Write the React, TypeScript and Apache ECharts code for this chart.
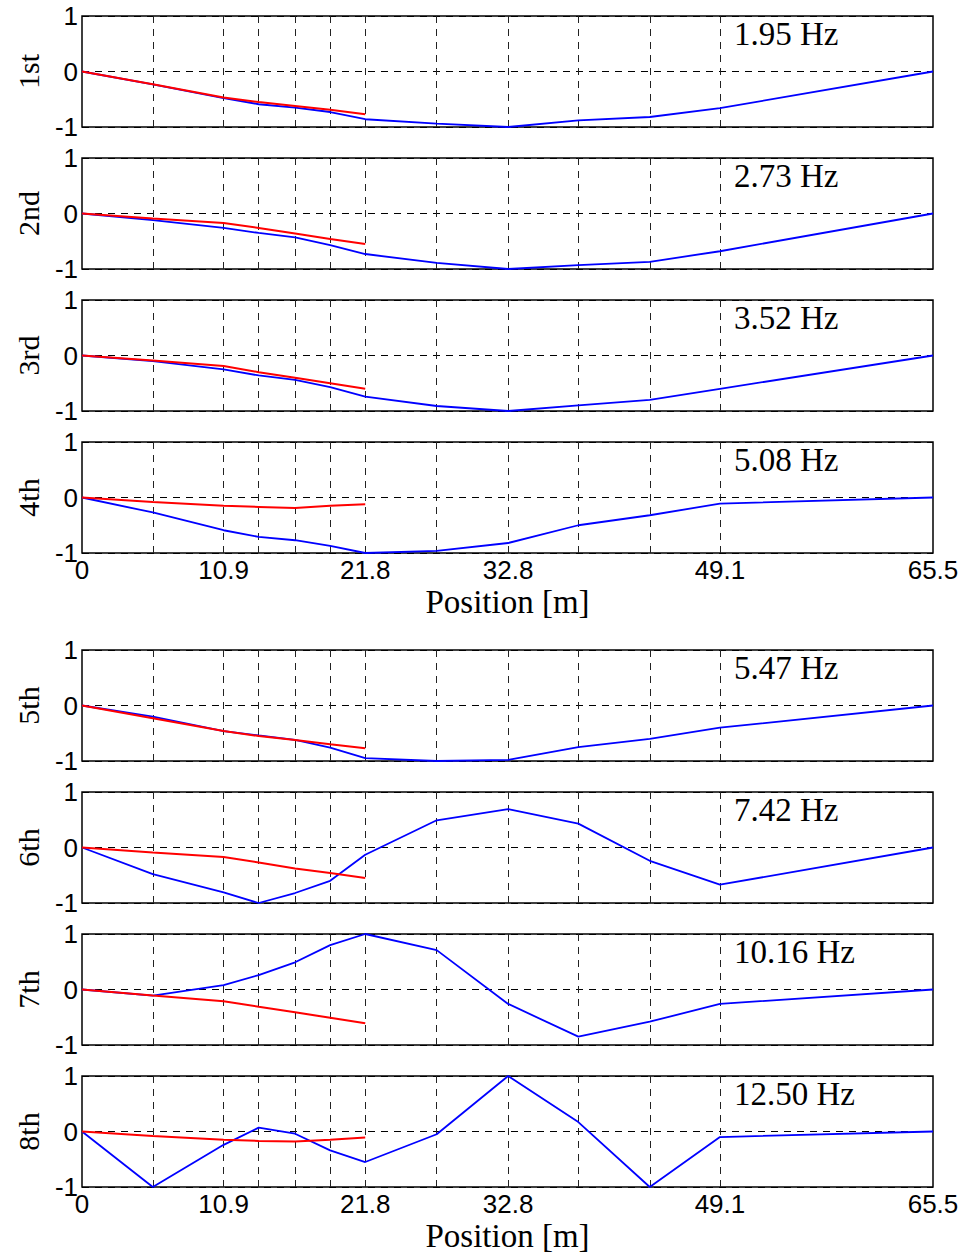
import React, { useEffect, useRef } from "react";
import * as echarts from "echarts";

const positions = [0, 5.45, 10.9, 13.6, 16.4, 19.1, 21.8, 27.3, 32.8, 38.2, 43.7, 49.1, 65.5];
const redPositions = [0, 5.45, 10.9, 13.6, 16.4, 19.1, 21.8];
const xTickLabels = [0, 10.9, 21.8, 32.8, 49.1, 65.5];
const yTicks = [-1, 0, 1];
const modeNames = ["1st", "2nd", "3rd", "4th", "5th", "6th", "7th", "8th"];
const frequencies = ["1.95 Hz", "2.73 Hz", "3.52 Hz", "5.08 Hz", "5.47 Hz", "7.42 Hz", "10.16 Hz", "12.50 Hz"];
const xAxisTitle = "Position [m]";

const blue1 = [0, -0.23, -0.48, -0.59, -0.65, -0.73, -0.86, -0.94, -1.0, -0.88, -0.82, -0.66, 0];
const blue2 = [0, -0.12, -0.26, -0.35, -0.43, -0.57, -0.73, -0.89, -1.0, -0.93, -0.87, -0.68, 0];
const blue3 = [0, -0.1, -0.25, -0.36, -0.44, -0.57, -0.74, -0.91, -1.0, -0.9, -0.8, -0.6, 0];
const blue4 = [0, -0.27, -0.59, -0.71, -0.77, -0.87, -1.0, -0.96, -0.82, -0.5, -0.32, -0.11, 0];
const blue5 = [0, -0.2, -0.46, -0.54, -0.62, -0.76, -0.95, -1.0, -0.98, -0.75, -0.6, -0.4, 0];
const blue6 = [0, -0.48, -0.81, -1.0, -0.82, -0.6, -0.13, 0.49, 0.69, 0.43, -0.24, -0.67, 0];
const blue7 = [0, -0.11, 0.08, 0.26, 0.49, 0.8, 1.0, 0.71, -0.26, -0.85, -0.58, -0.26, 0];
const blue8 = [0, -1.0, -0.24, 0.07, -0.04, -0.34, -0.55, -0.05, 1.0, 0.17, -1.0, -0.1, 0];

const red1 = [0, -0.23, -0.47, -0.55, -0.62, -0.69, -0.77];
const red2 = [0, -0.09, -0.17, -0.26, -0.36, -0.46, -0.55];
const red3 = [0, -0.09, -0.19, -0.3, -0.4, -0.5, -0.6];
const red4 = [0, -0.08, -0.15, -0.17, -0.19, -0.15, -0.12];
const red5 = [0, -0.23, -0.46, -0.55, -0.62, -0.7, -0.77];
const red6 = [0, -0.09, -0.17, -0.27, -0.38, -0.46, -0.55];
const red7 = [0, -0.11, -0.21, -0.31, -0.41, -0.51, -0.61];
const red8 = [0, -0.08, -0.15, -0.17, -0.18, -0.15, -0.11];

const blueSeries = [blue1, blue2, blue3, blue4, blue5, blue6, blue7, blue8];
const redSeries = [red1, red2, red3, red4, red5, red6, red7, red8];

const gridTops = [16, 158, 300, 442, 650, 792, 934, 1076];
const gridH = 111;
const gridLeft = 82;
const gridW = 851;
const labeledPanels = [3, 7];

const SANS = "'Liberation Sans', Arial, sans-serif";
const SERIF = "'Liberation Serif', 'Times New Roman', serif";

export default function App() {
  const ref = useRef<HTMLDivElement>(null);
  useEffect(() => {
    document.body.style.margin = "0";
    const chart = echarts.init(ref.current!, null, { renderer: "svg" });
    const grids: any[] = [];
    const xAxes: any[] = [];
    const yAxes: any[] = [];
    const series: any[] = [];
    const graphics: any[] = [];
    for (let i = 0; i < 8; i++) {
      const showX = labeledPanels.includes(i);
      grids.push({
        left: gridLeft,
        top: gridTops[i],
        width: gridW,
        height: gridH,
        show: true,
        borderColor: "#000",
        borderWidth: 1.5,
        backgroundColor: "transparent",
      });
      xAxes.push({
        type: "value",
        gridIndex: i,
        min: 0,
        max: 65.5,
        axisLine: { show: false },
        axisTick: { show: false },
        splitLine: { show: false },
        axisLabel: {
          show: showX,
          customValues: xTickLabels,
          fontSize: 26,
          fontFamily: SANS,
          color: "#000",
          margin: 4,
          formatter: (v: number) => String(v),
        },
        name: showX ? xAxisTitle : "",
        nameLocation: "middle",
        nameGap: 32,
        nameTextStyle: { fontSize: 33, fontFamily: SERIF, color: "#000" },
      });
      yAxes.push({
        type: "value",
        gridIndex: i,
        min: yTicks[0],
        max: yTicks[2],
        interval: 1,
        axisLine: { show: false },
        axisTick: { show: false },
        axisLabel: { fontSize: 26, fontFamily: SANS, color: "#000", margin: 4 },
        splitLine: { show: true, lineStyle: { type: [7, 6], color: "#000", width: 1 } },
        name: modeNames[i],
        nameLocation: "middle",
        nameRotate: 90,
        nameGap: 39,
        nameTextStyle: { fontSize: 30, fontFamily: SERIF, color: "#000" },
      });
      series.push({
        type: "line",
        xAxisIndex: i,
        yAxisIndex: i,
        data: positions.map((x, k) => [x, blueSeries[i][k]]),
        symbol: "none",
        lineStyle: { color: "#0000ff", width: 1.8 },
        z: 3,
        markLine: {
          silent: true,
          symbol: ["none", "none"],
          label: { show: false },
          lineStyle: { type: [7, 6], color: "#222", width: 1 },
          data: positions.slice(1, -1).map((v) => ({ xAxis: v })),
          z: 1,
        },
      });
      series.push({
        type: "line",
        xAxisIndex: i,
        yAxisIndex: i,
        data: redPositions.map((x, k) => [x, redSeries[i][k]]),
        symbol: "none",
        lineStyle: { color: "#ff0000", width: 2 },
        z: 4,
      });
      graphics.push({
        type: "text",
        x: 734,
        y: gridTops[i] + 18,
        style: {
          text: frequencies[i],
          fontSize: 33,
          fontFamily: SERIF,
          fill: "#000",
          textVerticalAlign: "middle",
        },
      });
    }
    chart.setOption({
      animation: false,
      backgroundColor: "#fff",
      grid: grids,
      xAxis: xAxes,
      yAxis: yAxes,
      series,
      graphic: graphics,
    });
    return () => chart.dispose();
  }, []);
  return <div ref={ref} style={{ width: 976, height: 1255 }} />;
}
